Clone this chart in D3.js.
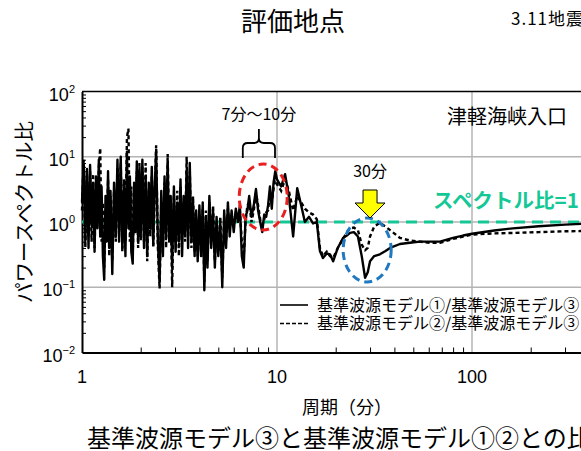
<!DOCTYPE html>
<html>
<head>
<meta charset="utf-8">
<script src="https://cdn.jsdelivr.net/npm/d3@7"></script>
<style>
body { margin: 0; background: #fff; overflow: hidden; }
</style>
</head>
<body>
<div id="chart"></div>
<script>
// period (min)
const periods = [
    1.00, 1.02, 1.04, 1.06, 1.08, 1.10, 1.12, 1.14, 1.16, 1.18, 1.20, 1.22, 1.24, 1.26, 1.28, 1.30, 1.32, 1.34, 1.36, 1.38, 1.40,
    1.43, 1.46, 1.49, 1.52, 1.55, 1.58, 1.61, 1.64, 1.67, 1.70, 1.73, 1.76, 1.79, 1.82, 1.85, 1.88, 1.91, 1.94, 1.97, 2.00,
    2.04, 2.08, 2.12, 2.16, 2.20, 2.24, 2.28, 2.32, 2.36, 2.40,
    2.45, 2.50, 2.55, 2.60, 2.65, 2.70, 2.75, 2.80, 2.85, 2.90,
    2.96, 3.02, 3.08, 3.14, 3.20, 3.26, 3.32, 3.38, 3.44, 3.50,
    3.57, 3.64, 3.71, 3.78, 3.85, 3.92, 4.00,
    4.08, 4.16, 4.24, 4.32, 4.40,
    4.50, 4.60, 4.70, 4.80, 4.90, 5.00,
    5.12, 5.24, 5.36, 5.48, 5.60, 5.72,
    5.85, 6.00, 6.15, 6.30, 6.45, 6.60, 6.75, 6.90, 7.05, 7.20,
    7.40, 7.60, 7.80, 8.00, 8.20, 8.40, 8.60, 8.80, 9.00, 9.20, 9.40, 9.60, 9.80, 10.0,
    10.5, 11.0, 11.5, 12.1, 12.7, 13.3, 13.9, 14.6, 15.3, 16.0, 16.6, 17.2, 18.0, 18.7, 19.4,
    20.5, 21.8, 22.8, 23.7, 24.8, 26.0, 27.2, 28.3, 29.2, 30.0, 31.5, 33.7, 36.0, 38.0, 42.7,
    48, 54.1, 61, 68.5, 79.9, 90, 100, 130, 162, 220, 300, 400, 550, 700, 1000
];

// model1 / model3
const solidRatio = [
    2.0, 8.0, 0.5, 6.5, 0.4, 7.5, 0.9, 4.0, 0.35, 5.0, 0.8, 9.0, 0.6, 3.5, 0.3, 0.13, 2.5, 0.5, 6.0, 0.4, 3.0,
    0.16, 4.0, 0.6, 9.0, 0.5, 10, 0.4, 3.0, 0.3, 12, 0.8, 5.0, 0.35, 0.23, 4.0, 0.7, 8.5, 0.5, 6.0, 0.6,
    9.0, 0.4, 5.0, 0.3, 4.0, 0.8, 7.0, 0.45, 3.5, 12,
    0.5, 0.12, 3.0, 0.3, 5.0, 0.6, 8.0, 0.5, 2.5, 0.2,
    3.5, 0.35, 2.0, 0.5, 4.5, 0.3, 2.5, 0.7, 6.0, 0.4,
    8.0, 0.5, 2.0, 0.3, 1.5, 0.25, 1.8,
    0.3, 2.0, 0.09, 1.2, 0.2,
    2.5, 0.4, 1.5, 0.2, 1.2, 0.3,
    1.0, 0.1, 1.5, 0.4, 2.0, 0.6,
    1.5, 0.7, 1.6, 1.0, 1.8, 0.3, 0.2, 1.2, 1.5, 2.5,
    1.2, 1.8, 3.2, 1.5, 1.0, 0.7, 1.3, 1.2, 1.8, 3.5, 1.6, 4.0, 6.0, 4.5,
    3.5, 5.4, 2.5, 0.6, 3.3, 1.8, 1.0, 1.2, 0.95, 1.0, 0.36, 0.28, 0.33, 0.32, 0.25,
    0.4, 0.57, 0.62, 0.68, 0.7, 0.6, 0.3, 0.14, 0.17, 0.25, 0.3, 0.32, 0.36, 0.4, 0.46,
    0.48, 0.5, 0.5, 0.5, 0.57, 0.62, 0.66, 0.74, 0.8, 0.86, 0.91, 0.95, 0.98, 1.0, 1.03
];

// model2 / model3
const dashedRatio = [
    1.5, 9.0, 0.4, 5.0, 0.6, 6.0, 0.5, 5.5, 0.4, 3.5, 1.0, 7.0, 13.6, 0.5, 2.0, 0.2, 1.5, 0.7, 4.5, 0.3, 2.5,
    0.25, 3.0, 0.5, 7.0, 0.7, 8.0, 0.35, 4.5, 0.5, 20, 27, 0.5, 3.5, 0.3, 2.5, 0.9, 6.0, 0.4, 8.0, 0.5,
    7.0, 0.5, 8.0, 0.25, 3.0, 0.6, 5.0, 0.4, 2.5, 15,
    0.4, 0.095, 2.0, 0.5, 4.0, 0.4, 11, 0.6, 1.5, 0.1,
    2.5, 0.5, 3.0, 0.3, 3.5, 0.6, 1.8, 0.5, 10, 0.6,
    6.0, 0.4, 2.5, 0.35, 1.2, 0.3, 1.3,
    0.35, 1.6, 0.12, 1.5, 0.25,
    2.0, 0.5, 1.8, 0.25, 1.0, 0.35,
    1.2, 0.14, 1.2, 0.5, 1.6, 0.8,
    1.3, 0.9, 1.4, 1.2, 1.5, 0.5, 0.3, 1.0, 1.8, 2.0,
    1.0, 1.5, 2.8, 1.8, 1.1, 0.9, 1.1, 1.4, 1.5, 2.8, 2.0, 3.2, 5.0, 3.8,
    3.0, 4.5, 3.0, 1.5, 2.5, 2.0, 1.6, 1.4, 1.3, 1.1, 0.4, 0.3, 0.35, 0.3, 0.28,
    0.4, 0.55, 0.7, 0.8, 0.82, 0.75, 0.45, 0.37, 0.4, 0.6, 0.85, 0.97, 0.85, 0.75, 0.57,
    0.52, 0.5, 0.48, 0.48, 0.55, 0.6, 0.64, 0.67, 0.68, 0.7, 0.72, 0.73, 0.74, 0.75, 0.76
];

const yMajorTicks = [0.01, 0.1, 1, 10, 100];
const yTickExponents = ["\u22122", "\u22121", "0", "1", "2"];
const yGridValues = [0.1, 1, 10];
const xMajorTicks = [1, 10, 100, 1000];
const xLabelTicks = [1, 10, 100];
const xTickLabels = ["1", "10", "100"];
const xGridValues = [10, 100];
const legendLabels = ["基準波源モデル①/基準波源モデル③", "基準波源モデル②/基準波源モデル③"];

const jp = "'Noto Sans CJK JP', sans-serif";
const latin = "'Liberation Sans', Arial, sans-serif";
const green = "#14c896";

const svg = d3.select("#chart")
    .append("svg")
    .attr("width", 581)
    .attr("height", 451);

const x = d3.scaleLog().domain([1, 1000]).range([82, 667]);
const y = d3.scaleLog().domain([0.01, 100]).range([352.5, 91.5]);

// grid lines
svg.selectAll(".hgrid")
    .data(yGridValues)
    .enter()
    .append("line")
    .attr("x1", x(1)).attr("x2", x(1000))
    .attr("y1", d => y(d)).attr("y2", d => y(d))
    .attr("stroke", "#b4b4b4")
    .attr("stroke-width", 1.5);

svg.selectAll(".vgrid")
    .data(xGridValues)
    .enter()
    .append("line")
    .attr("x1", d => x(d)).attr("x2", d => x(d))
    .attr("y1", y(100)).attr("y2", y(0.01))
    .attr("stroke", "#b4b4b4")
    .attr("stroke-width", 1.5);

// minor ticks pointing inward
const xMinor = x.ticks().filter(v => xMajorTicks.indexOf(v) < 0);
const yMinor = y.ticks().filter(v => yMajorTicks.indexOf(v) < 0);

svg.append("g")
    .attr("transform", `translate(0, ${y(0.01)})`)
    .call(d3.axisBottom(x).tickValues(xMinor).tickSize(-5).tickSizeOuter(0).tickFormat(""))
    .call(g => g.select(".domain").attr("stroke-width", 2));

svg.append("g")
    .attr("transform", `translate(${x(1)}, 0)`)
    .call(d3.axisLeft(y).tickValues(yMinor).tickSize(-4).tickSizeOuter(0).tickFormat(""))
    .call(g => g.select(".domain").attr("stroke-width", 2));

// top frame
svg.append("line")
    .attr("x1", x(1)).attr("x2", x(1000))
    .attr("y1", y(100)).attr("y2", y(100))
    .attr("stroke", "#000")
    .attr("stroke-width", 1.5);

// tick labels
const yLab = svg.selectAll(".ylab")
    .data(yMajorTicks)
    .enter()
    .append("text")
    .attr("x", 75)
    .attr("y", d => y(d) + 9)
    .attr("text-anchor", "end")
    .style("font-family", latin)
    .style("font-size", "18px");
yLab.append("tspan").text("10");
yLab.append("tspan")
    .attr("dy", -8)
    .style("font-size", "11px")
    .text((d, i) => yTickExponents[i]);

svg.selectAll(".xlab")
    .data(xLabelTicks)
    .enter()
    .append("text")
    .attr("x", d => x(d))
    .attr("y", 383)
    .attr("text-anchor", "middle")
    .style("font-family", latin)
    .style("font-size", "18px")
    .text((d, i) => xTickLabels[i]);

// spectral ratio = 1 line
svg.append("line")
    .attr("x1", x(1)).attr("x2", x(1000))
    .attr("y1", y(1)).attr("y2", y(1))
    .attr("stroke", green)
    .attr("stroke-width", 3)
    .attr("stroke-dasharray", "11,7");

// data lines
const line = d3.line()
    .x(d => x(d[0]))
    .y(d => y(d[1]));

svg.append("path")
    .datum(d3.zip(periods, solidRatio))
    .attr("d", line)
    .attr("fill", "none")
    .attr("stroke", "#000")
    .attr("stroke-width", 2.4)
    .attr("stroke-linejoin", "round");

svg.append("path")
    .datum(d3.zip(periods, dashedRatio))
    .attr("d", line)
    .attr("fill", "none")
    .attr("stroke", "#000")
    .attr("stroke-width", 2.4)
    .attr("stroke-dasharray", "4,3");

// annotations
svg.append("ellipse")
    .attr("cx", x(8.5)).attr("cy", 197)
    .attr("rx", 24).attr("ry", 33)
    .attr("fill", "none")
    .attr("stroke", "#e82020")
    .attr("stroke-width", 3)
    .attr("stroke-dasharray", "8,5");

svg.append("ellipse")
    .attr("cx", x(29)).attr("cy", 250)
    .attr("rx", 24).attr("ry", 32)
    .attr("fill", "none")
    .attr("stroke", "#1f78c0")
    .attr("stroke-width", 3)
    .attr("stroke-dasharray", "8,5");

const bx0 = x(7) - 4, bx1 = x(10) - 2, bm = (bx0 + bx1) / 2;
svg.append("path")
    .attr("d", `M${bx0},158 L${bx0},148 Q${bx0},143 ${bx0 + 5},143 L${bm - 5},143 Q${bm},143 ${bm},138 L${bm},129
        L${bm},138 Q${bm},143 ${bm + 5},143 L${bx1 - 5},143 Q${bx1},143 ${bx1},148 L${bx1},158`)
    .attr("fill", "none")
    .attr("stroke", "#000")
    .attr("stroke-width", 1.8);

svg.append("text")
    .attr("x", bm)
    .attr("y", 120)
    .attr("text-anchor", "middle")
    .style("font-family", jp)
    .style("font-size", "16px")
    .text("7分～10分");

const ax = x(30);
svg.append("path")
    .attr("d", `M${ax - 7},190 L${ax + 7},190 L${ax + 7},203 L${ax + 15},203 L${ax},218 L${ax - 15},203 L${ax - 7},203 Z`)
    .attr("fill", "#ffff00")
    .attr("stroke", "#000")
    .attr("stroke-width", 1);

svg.append("text")
    .attr("x", ax)
    .attr("y", 177)
    .attr("text-anchor", "middle")
    .style("font-family", jp)
    .style("font-size", "16px")
    .text("30分");

svg.append("text")
    .attr("x", 447)
    .attr("y", 124)
    .style("font-family", jp)
    .style("font-size", "20px")
    .text("津軽海峡入口");

svg.append("text")
    .attr("x", 433)
    .attr("y", 208)
    .attr("fill", green)
    .style("font-family", jp)
    .style("font-size", "20.5px")
    .style("font-weight", "bold")
    .text("スペクトル比=1");

// legend
const legend = svg.append("g").attr("transform", "translate(280, 305)");
const legendItem = legend.selectAll(".legend-item")
    .data(legendLabels)
    .enter()
    .append("g")
    .attr("transform", (d, i) => `translate(0, ${i * 18.5})`);

legendItem.append("line")
    .attr("x1", 0).attr("x2", 28)
    .attr("stroke", "#000")
    .attr("stroke-width", 1.6)
    .attr("stroke-dasharray", (d, i) => i === 0 ? null : "4,2");

legendItem.append("text")
    .attr("x", 37)
    .attr("y", 5.5)
    .style("font-family", jp)
    .style("font-size", "16px")
    .text(d => d);

// titles
svg.append("text")
    .attr("x", 293)
    .attr("y", 31)
    .attr("text-anchor", "middle")
    .style("font-family", jp)
    .style("font-size", "26px")
    .text("評価地点");

svg.append("text")
    .attr("x", 511)
    .attr("y", 25)
    .style("font-family", jp)
    .style("font-size", "17px")
    .style("letter-spacing", "1px")
    .text("3.11地震");

svg.append("text")
    .attr("transform", "translate(32, 212) rotate(-90)")
    .attr("text-anchor", "middle")
    .style("font-family", jp)
    .style("font-size", "20.5px")
    .text("パワースペクトル比");

svg.append("text")
    .attr("x", 347)
    .attr("y", 414)
    .attr("text-anchor", "middle")
    .style("font-family", jp)
    .style("font-size", "18px")
    .text("周期（分）");

svg.append("text")
    .attr("x", 87)
    .attr("y", 447)
    .style("font-family", jp)
    .style("font-size", "24px")
    .text("基準波源モデル③と基準波源モデル①②との比");
</script>
</body>
</html>
